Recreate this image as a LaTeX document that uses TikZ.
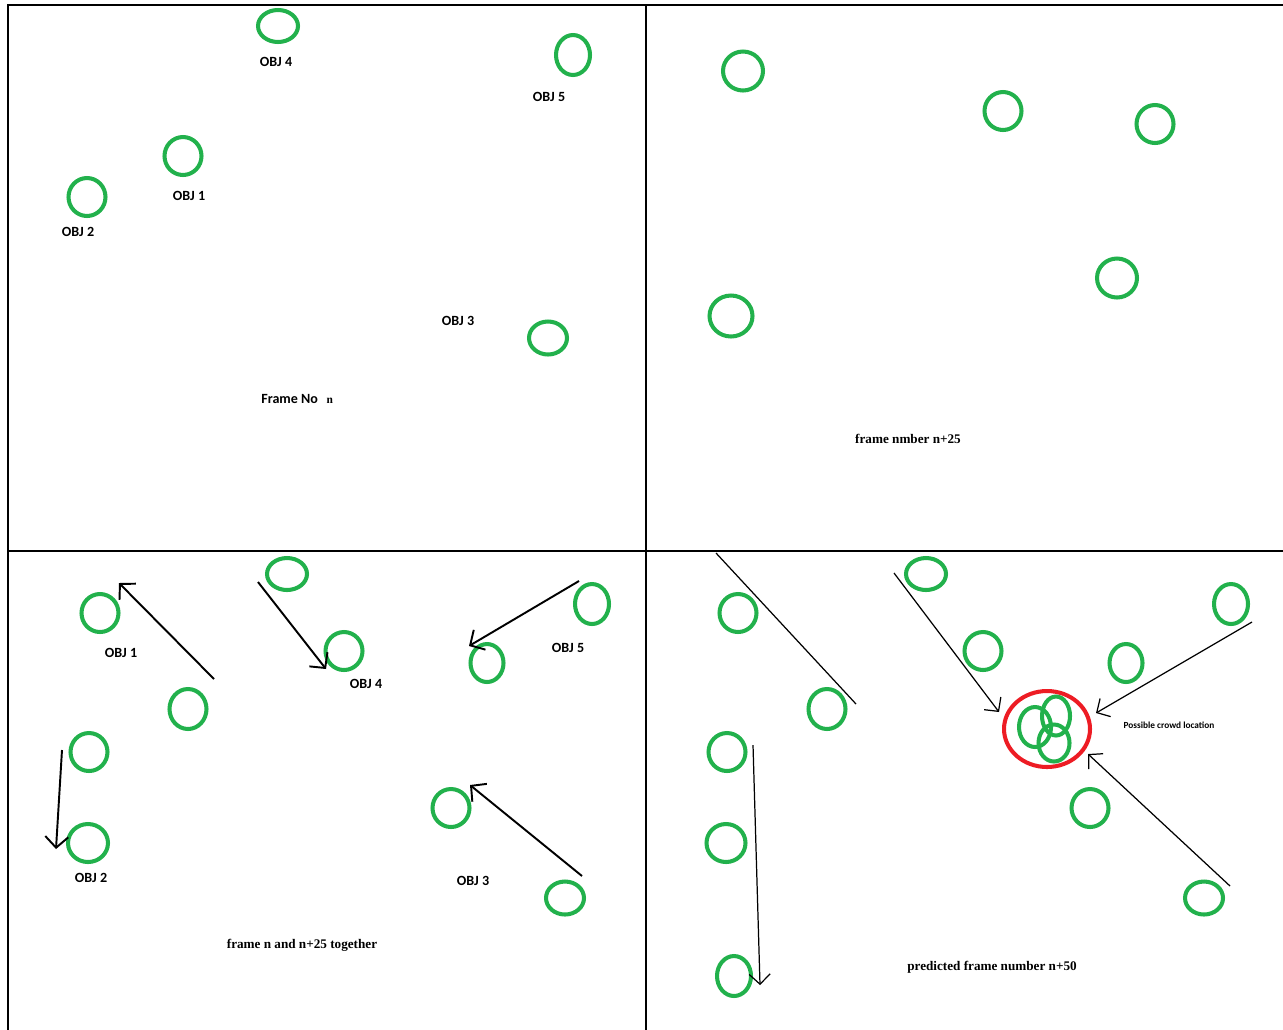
\documentclass[tikz,border=0pt]{standalone}
\usepackage{fontspec}
\setmainfont{Liberation Serif}
\newfontfamily\labelfont{Carlito}
\usetikzlibrary{arrows.meta,shapes.geometric}

\definecolor{objgreen}{RGB}{34,177,76}
\definecolor{crowdred}{RGB}{237,28,36}

\begin{document}
\begin{tikzpicture}[x=0.02cm, y=-0.02cm,
  panelline/.style={line width=1.1pt, line cap=rect},
  obj/.style={ellipse, draw=objgreen, line width=2.3pt, inner sep=0pt, minimum width=0.74cm, minimum height=0.76cm},
  objflat/.style={obj, minimum width=0.8cm, minimum height=0.64cm},
  objtall/.style={obj, minimum width=0.68cm, minimum height=0.8cm},
  objbig/.style={obj, minimum width=0.8cm, minimum height=0.78cm},
  crowd/.style={ellipse, draw=crowdred, line width=2.3pt, inner sep=0pt, minimum width=1.72cm, minimum height=1.52cm},
  lbl/.style={font=\labelfont\bfseries\fontsize{8}{9}\selectfont, inner sep=0pt},
  captxt/.style={font=\bfseries\fontsize{7.5}{9}\selectfont, inner sep=0pt},
  arr/.style={-{Straight Barb[length=0.22cm, width=0.46cm]}, line width=1.1pt},
  thinline/.style={line width=0.7pt},
  thinarr/.style={thinline, -{Straight Barb[length=0.2cm, width=0.42cm]}}
]
\useasboundingbox (0,0) rectangle (1283,1029);

% panels
\draw[panelline] (8,5) -- (1283,5);
\draw[panelline] (8,5) -- (8,1029);
\draw[panelline] (646,5) -- (646,1029);
\draw[panelline] (8,551) -- (1283,551);

% frame n
\node[obj] (a1) at (183,156) {};
\node[obj] (a2) at (87,197) {};
\node[obj, minimum width=0.76cm, minimum height=0.66cm] (a3) at (548,338) {};
\node[objflat] (a4) at (278,26) {};
\node[objtall] (a5) at (573,55) {};
\node[lbl] (la1) at (189,196) {OBJ 1};
\node[lbl] (la2) at (78,232) {OBJ 2};
\node[lbl] (la3) at (458,321) {OBJ 3};
\node[lbl] (la4) at (276,62) {OBJ 4};
\node[lbl] (la5) at (549,97) {OBJ 5};
\node[lbl, anchor=west] (capa) at (261,399) {Frame No\hspace{5pt}{\rmfamily\fontsize{6.5}{7}\selectfont n}};

% frame n+25
\node[objbig] (b1) at (743,71) {};
\node[obj] (b2) at (1003,111) {};
\node[obj] (b3) at (1155,124) {};
\node[objbig] (b4) at (1117,278) {};
\node[obj, minimum width=0.86cm, minimum height=0.82cm] (b5) at (731,316) {};
\node[captxt] (capb) at (908,439) {frame nmber n+25};

% frame n and n+25
\node[obj] (c1) at (100,613) {};
\node[objflat] (c2) at (287,574) {};
\node[obj] (c3) at (344,651) {};
\node[objtall] (c4) at (592,604) {};
\node[obj, minimum width=0.66cm] (c5) at (487,663) {};
\node[obj, minimum height=0.8cm] (c6) at (188,709) {};
\node[obj] (c7) at (89,752) {};
\node[obj, minimum width=0.8cm] (c8) at (88,843) {};
\node[obj] (c9) at (451,808) {};
\node[obj, minimum width=0.76cm, minimum height=0.66cm] (c10) at (565,898) {};
\coordinate (c1s) at (214,679); \coordinate (c1e) at (119,583);
\coordinate (c2s) at (62,750);  \coordinate (c2e) at (56,849);
\coordinate (c3s) at (582,876); \coordinate (c3e) at (470,785);
\coordinate (c4s) at (258,582); \coordinate (c4e) at (326,669);
\coordinate (c5s) at (579,581); \coordinate (c5e) at (469,646);
\draw[arr] (c1s) -- (c1e);
\draw[arr] (c2s) -- (c2e);
\draw[arr] (c3s) -- (c3e);
\draw[arr] (c4s) -- (c4e);
\draw[arr] (c5s) -- (c5e);
\node[lbl] (lc1) at (121,653) {OBJ 1};
\node[lbl] (lc2) at (91,878) {OBJ 2};
\node[lbl] (lc3) at (473,881) {OBJ 3};
\node[lbl] (lc4) at (366,684) {OBJ 4};
\node[lbl] (lc5) at (568,648) {OBJ 5};
\node[captxt] (capc) at (302,945) {frame n and n+25 together};

% predicted frame n+50
\node[obj] (d1) at (738,613) {};
\node[objflat] (d2) at (926,574) {};
\node[obj] (d3) at (983,651) {};
\node[objtall] (d4) at (1231,604) {};
\node[obj, minimum width=0.66cm] (d5) at (1126,663) {};
\node[obj, minimum height=0.8cm] (d6) at (827,709) {};
\node[obj] (d7) at (727,752) {};
\node[obj, minimum width=0.78cm] (d8) at (726,843) {};
\node[obj] (d9) at (1090,808) {};
\node[obj, minimum width=0.76cm, minimum height=0.66cm] (d10) at (1204,898) {};
\node[objtall] (d11) at (734,976) {};
\node[crowd] (cr) at (1047,729) {};
\node[obj, minimum width=0.64cm, minimum height=0.8cm] (cr1) at (1035,727) {};
\node[obj, minimum width=0.56cm, minimum height=0.78cm] (cr2) at (1056,716) {};
\node[obj, minimum width=0.62cm, minimum height=0.74cm] (cr3) at (1054,743) {};
\coordinate (d1s) at (716,553);  \coordinate (d1e) at (856,704);
\coordinate (d2s) at (894,573);  \coordinate (d2e) at (999,712);
\coordinate (d3s) at (1252,622); \coordinate (d3e) at (1096,713);
\coordinate (d4s) at (1230,886); \coordinate (d4e) at (1088,754);
\coordinate (d5s) at (753,745);  \coordinate (d5e) at (760,985);
\draw[thinline] (d1s) -- (d1e);
\draw[thinarr] (d2s) -- (d2e);
\draw[thinarr] (d3s) -- (d3e);
\draw[thinarr] (d4s) -- (d4e);
\draw[thinarr] (d5s) -- (d5e);
\node[font=\labelfont\bfseries\fontsize{5.3}{6}\selectfont, inner sep=0pt] (lcr) at (1169,725) {Possible crowd location};
\node[captxt] (capd) at (992,967) {predicted frame number n+50};
\end{tikzpicture}
\end{document}
